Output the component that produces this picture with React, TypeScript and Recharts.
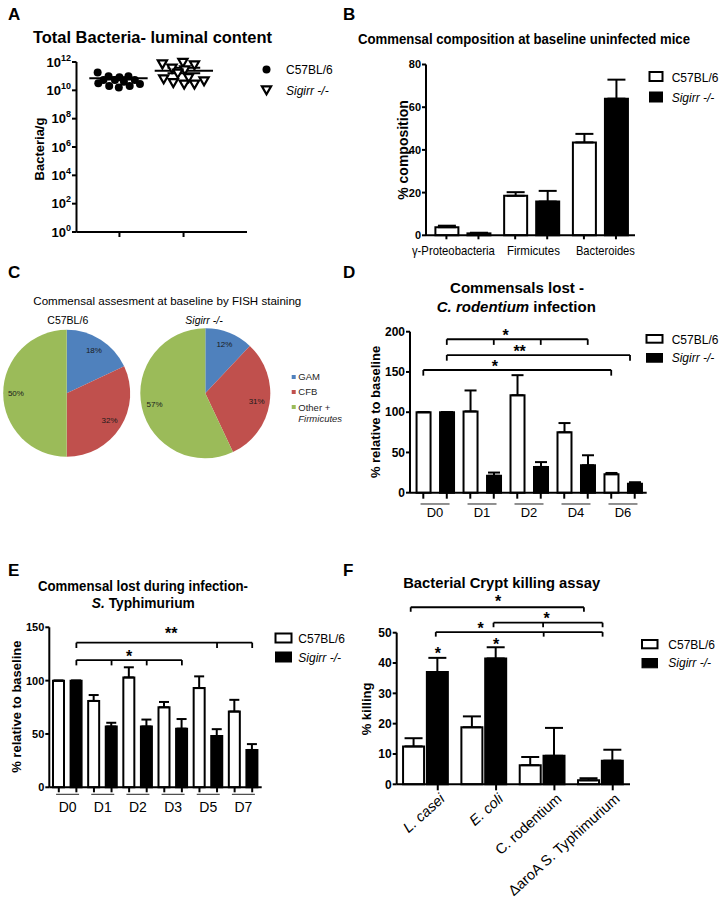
import React from 'react';
import {
  ScatterChart, Scatter, XAxis, YAxis, ReferenceLine, ReferenceDot,
  BarChart, Bar, Cell, ErrorBar, PieChart, Pie,
} from 'recharts';

const FONT = '"Liberation Sans", Arial, Helvetica, sans-serif';
const BLACK = '#000000';
const WHITE = '#ffffff';
const AX = { stroke: BLACK, strokeWidth: 2 };

// ---------------- Panel A data ----------------
const aYTicks = [1, 1e2, 1e4, 1e6, 1e8, 1e10, 1e12];
const aGroupTicks = [1, 2];
const aC57 = [
  { x: 0.66, y: 1.8e11 }, { x: 0.67, y: 3.2e10 }, { x: 0.75, y: 5.4e10 },
  { x: 0.83, y: 1.0e11 }, { x: 0.84, y: 2.0e10 }, { x: 0.93, y: 5.4e10 },
  { x: 0.99, y: 1.6e10 }, { x: 1.0, y: 8.3e10 }, { x: 1.07, y: 4.1e10 },
  { x: 1.14, y: 1.0e11 }, { x: 1.16, y: 2.0e10 }, { x: 1.24, y: 5.4e10 },
  { x: 1.32, y: 2.8e10 },
];
const aSig = [
  { x: 1.67, y: 7.2e11 }, { x: 1.82, y: 3.6e11 }, { x: 1.99, y: 9.3e11 },
  { x: 2.17, y: 6.2e11 }, { x: 1.69, y: 6.3e10 }, { x: 1.84, y: 3.5e10 },
  { x: 2.01, y: 2.7e10 }, { x: 2.08, y: 7.8e10 }, { x: 2.17, y: 2.7e10 },
  { x: 2.32, y: 4.6e10 }, { x: 2.02, y: 2.75e11 }, { x: 1.91, y: 1.6e11 },
];
const aMeans = [7.1e10, 2.45e11];
const aSemLow = [5.9e10, 1.6e11];
const aSemHigh = [8.5e10, 4.0e11];
const aMeanSpan = [[0.53, 1.44], [1.55, 2.46]];
const aSemSpan = [[0.77, 1.2], [1.75, 2.26]];

// ---------------- Panel B data ----------------
const bCats = ['γ-Proteobacteria', 'Firmicutes', 'Bacteroides'];
const bC57 = [3.8, 18.5, 43.5];
const bC57Err = [0.7, 1.7, 4.0];
const bSig = [0.9, 15.8, 64.0];
const bSigErr = [0.3, 5.0, 8.9];
const bYTicks = [0, 20, 40, 60, 80];
const bLabelLen = [83, 53, 59];
const bLabelShift = [-9, 2.3, 5.5];

// ---------------- Panel C data ----------------
const pieCats = ['GAM', 'CFB', 'Other + Firmicutes'];
const pieC57 = [18, 32, 50];
const pieSig = [12, 31, 57];
const pieColors = ['#4F81BD', '#C0504D', '#9BBB59'];

// ---------------- Panel D data ----------------
const dCats = ['D0', 'D1', 'D2', 'D4', 'D6'];
const dC57 = [100, 101, 121, 75, 23];
const dC57Err = [0, 26, 25, 11.5, 1.5];
const dSig = [100, 21, 32, 34, 11];
const dSigErr = [0, 4, 6, 12.5, 2];
const dYTicks = [0, 50, 100, 150, 200];
const dBrackets = [
  { from: 1, to: 7, y: 190.6, drops: [1, 3, 5, 7], drop: 7 },
  { from: 1, to: 8.8, y: 171, drops: [1, 8.8], drop: 7 },
  { from: 0, to: 8, y: 152.4, drops: [0, 8], drop: 7 },
];
const dStars = [
  { x: 3.5, y: 200, t: '*' },
  { x: 4.1, y: 179.5, t: '**' },
  { x: 3.05, y: 161, t: '*' },
];

// ---------------- Panel E data ----------------
const eCats = ['D0', 'D1', 'D2', 'D3', 'D5', 'D7'];
const eC57 = [100, 81, 103, 75, 93, 71];
const eC57Err = [0, 5.5, 9.5, 5, 11, 11];
const eSig = [100, 57, 57, 55, 48, 35];
const eSigErr = [0, 3.5, 6.5, 9, 6.5, 5.5];
const eYTicks = [0, 50, 100, 150];
const eBrackets = [
  { from: 1, to: 11, y: 135.6, drops: [1, 9, 11], drop: 5 },
  { from: 1, to: 7, y: 119.3, drops: [1, 3, 5, 7], drop: 5 },
];
const eStars = [
  { x: 6.4, y: 147.5, t: '**' },
  { x: 4.0, y: 125.6, t: '*' },
];

// ---------------- Panel F data ----------------
const fCats = ['L. casei', 'E. coli', 'C. rodentium', 'ΔaroA S. Typhimurium'];
const fItalic = [true, true, false, false];
const fC57 = [12.5, 18.8, 6.3, 1.3];
const fC57Err = [2.7, 3.6, 2.7, 0.7];
const fSig = [37, 41.5, 9.4, 7.8];
const fSigErr = [4.7, 3.7, 9.2, 3.6];
const fYTicks = [0, 10, 20, 30, 40, 50];
const fBrackets = [
  { from: -0.26, to: 2.71, y: 58.4, drops: [-0.26, 2.71], drop: 1.5 },
  { from: 1.16, to: 3.03, y: 53.3, drops: [1.16, 2.01, 3.03], drop: 1.5 },
  { from: 0.17, to: 3.03, y: 50.2, drops: [0.17, 2.02, 3.03], drop: 1.5 },
];
const fStars = [
  { x: 1.24, y: 61.3, t: '*' },
  { x: 2.07, y: 55.8, t: '*' },
  { x: 0.94, y: 52.5, t: '*' },
  { x: 0.204, y: 44.3, t: '*' },
  { x: 1.204, y: 47.3, t: '*' },
];

// ---------------- helpers ----------------
type Row = { x: number; v: number; e: number[]; g: string };

function buildRows(
  c57: number[], c57Err: number[], sig: number[], sigErr: number[],
  posC: (i: number) => number, posS: (i: number) => number,
): Row[] {
  const rows: Row[] = [];
  c57.forEach((_, i) => {
    rows.push({ x: posC(i), v: c57[i], e: [0, c57Err[i]], g: 'c' });
    rows.push({ x: posS(i), v: sig[i], e: [0, sigErr[i]], g: 's' });
  });
  return rows;
}

const EmptyTick = () => <g />;

function bracketEls(brs: any[], prefix: string) {
  const els: any[] = [];
  brs.forEach((b, i) => {
    els.push(
      <ReferenceLine key={`${prefix}h${i}`} segment={[{ x: b.from, y: b.y }, { x: b.to, y: b.y }]}
        stroke={BLACK} strokeWidth={1.8} ifOverflow="visible" />,
    );
    b.drops.forEach((d: number, j: number) => {
      els.push(
        <ReferenceLine key={`${prefix}d${i}_${j}`} segment={[{ x: d, y: b.y }, { x: d, y: b.y - b.drop }]}
          stroke={BLACK} strokeWidth={1.8} ifOverflow="visible" />,
      );
    });
  });
  return els;
}

function starEls(stars: any[], prefix: string, fs: number) {
  return stars.map((s, i) => (
    <ReferenceDot key={`${prefix}s${i}`} x={s.x} y={s.y} ifOverflow="visible"
      shape={(p: any) => (
        <text x={p.cx} y={p.cy + fs * 0.56} textAnchor="middle" fontSize={fs}
          fontWeight="bold" fill={BLACK} fontFamily={FONT}>{s.t}</text>
      )} />
  ));
}

const LogTick = (props: any) => {
  const { x, y, payload } = props;
  const exp = Math.round(Math.log10(payload.value));
  return (
    <text x={x} y={y} dy={4.5} textAnchor="end" fontSize={13} fontWeight="bold" fill={BLACK} fontFamily={FONT}>
      <tspan>10</tspan>
      <tspan dy={-6} fontSize={9}>{exp}</tspan>
    </text>
  );
};

const DotShape = (p: any) => <circle cx={p.cx} cy={p.cy} r={4} fill={BLACK} />;
const TriShape = (p: any) => (
  <path d={`M${p.cx - 4.6},${p.cy - 3.6} L${p.cx + 4.6},${p.cy - 3.6} L${p.cx},${p.cy + 4.4} Z`}
    fill={WHITE} stroke={BLACK} strokeWidth={2.2} strokeLinejoin="miter" />
);

function makeGroupTick(
  labels: string[], halfPx: number, lineHalf: number, lineDy: number, labelDy: number, fs: number,
  lens?: number[], shifts?: number[],
) {
  return (props: any) => {
    const { x, y, index } = props;
    if (index % 2 !== 0) return <g />;
    const gi = index / 2;
    const cx = x + halfPx;
    const tx = cx + (shifts ? shifts[gi] : 0);
    return (
      <g>
        {lineHalf > 0 && (
          <line x1={cx - lineHalf} x2={cx + lineHalf} y1={y + lineDy} y2={y + lineDy} stroke="#222" strokeWidth={1} />
        )}
        <text x={tx} y={y + labelDy} textAnchor="middle" fontSize={fs} fill={BLACK} fontFamily={FONT}
          {...(lens ? { textLength: lens[gi], lengthAdjust: 'spacingAndGlyphs' } : {})}>
          {labels[gi]}
        </text>
      </g>
    );
  };
}

const FTick = (props: any) => {
  const { x, y, index } = props;
  return (
    <g transform={`translate(${x + 1},${y + 2}) rotate(-42)`}>
      <text x={0} y={0} dy="0.72em" textAnchor="end" fontSize={14.5} fill={BLACK} fontFamily={FONT}
        fontStyle={fItalic[index] ? 'italic' : 'normal'}>{fCats[index]}</text>
    </g>
  );
};

const pieLabel = (p: any) => {
  const RAD = Math.PI / 180;
  const r = p.outerRadius * 0.8;
  const x = p.cx + r * Math.cos(-p.midAngle * RAD);
  const y = p.cy + r * Math.sin(-p.midAngle * RAD);
  return (
    <text x={x} y={y} textAnchor="middle" dominantBaseline="central" fontSize={8} fill="#1a1a1a" fontFamily={FONT}>
      {`${p.value}%`}
    </text>
  );
};

// ---------------- rows ----------------
const bRows = buildRows(bC57, bC57Err, bSig, bSigErr, (i) => i - 0.233, (i) => i + 0.233);
const dRows = buildRows(dC57, dC57Err, dSig, dSigErr, (i) => 2 * i, (i) => 2 * i + 1);
const eRows = buildRows(eC57, eC57Err, eSig, eSigErr, (i) => 2 * i, (i) => 2 * i + 1);
const fRows = buildRows(fC57, fC57Err, fSig, fSigErr, (i) => i - 0.204, (i) => i + 0.204);
const fTickPos = fSig.map((_, i) => i + 0.204);
const pieC57Data = pieCats.map((n, i) => ({ name: n, value: pieC57[i] }));
const pieSigData = pieCats.map((n, i) => ({ name: n, value: pieSig[i] }));

const yTickStyle = (fs: number) => ({ fontSize: fs, fontWeight: 'bold', fill: BLACK, fontFamily: FONT });

const Abs = ({ left, top, children }: any) => (
  <div style={{ position: 'absolute', left, top }}>{children}</div>
);

const bTick = makeGroupTick(bCats, 16, 0, 0, 15.7, 12, bLabelLen, bLabelShift);
const dTick = makeGroupTick(dCats, 11.75, 14.5, 5.3, 18, 13);
const eTick = makeGroupTick(eCats, 8.8, 11.5, 2, 19.4, 14);

function barCells(rows: Row[]) {
  return rows.map((r, i) => <Cell key={`c${i}`} fill={r.g === 'c' ? WHITE : BLACK} />);
}

const LegendPair = ({ x, y1, y2, tx, b1, b2, w, h, fs }: any) => (
  <g>
    <rect x={x} y={y1} width={w} height={h} fill={WHITE} stroke={BLACK} strokeWidth={2} />
    <text x={tx} y={b1} fontSize={fs} fill={BLACK}>C57BL/6</text>
    <rect x={x} y={y2} width={w} height={h + 1} fill={BLACK} stroke={BLACK} strokeWidth={1} />
    <text x={tx} y={b2} fontSize={fs} fill={BLACK} fontStyle="italic">Sigirr -/-</text>
  </g>
);

export default function App() {
  return (
    <div style={{ position: 'absolute', left: 0, top: 0, width: 720, height: 905, background: WHITE, fontFamily: FONT, overflow: 'hidden' }}>
      {/* Panel A */}
      <Abs left={0} top={40}>
        <ScatterChart width={252} height={202} margin={{ top: 22, right: 5, bottom: 0, left: 0 }}>
          <XAxis type="number" dataKey="x" domain={[0.33, 2.99]} ticks={aGroupTicks} tick={EmptyTick}
            tickSize={5} height={10} axisLine={AX} tickLine={AX} interval={0} />
          <YAxis type="number" dataKey="y" scale="log" domain={[1, 1e12]} ticks={aYTicks} tick={LogTick}
            width={76.5} tickSize={4.5} tickMargin={1} axisLine={AX} tickLine={AX} interval={0} />
          {aMeans.map((m, i) => (
            <ReferenceLine key={`am${i}`} segment={[{ x: aMeanSpan[i][0], y: m }, { x: aMeanSpan[i][1], y: m }]}
              stroke={BLACK} strokeWidth={2} ifOverflow="visible" />
          ))}
          {aSemLow.map((m, i) => (
            <ReferenceLine key={`al${i}`} segment={[{ x: aSemSpan[i][0], y: m }, { x: aSemSpan[i][1], y: m }]}
              stroke={BLACK} strokeWidth={2} ifOverflow="visible" />
          ))}
          {aSemHigh.map((m, i) => (
            <ReferenceLine key={`ah${i}`} segment={[{ x: aSemSpan[i][0], y: m }, { x: aSemSpan[i][1], y: m }]}
              stroke={BLACK} strokeWidth={2} ifOverflow="visible" />
          ))}
          <Scatter data={aC57} shape={DotShape} isAnimationActive={false} />
          <Scatter data={aSig} shape={TriShape} isAnimationActive={false} />
        </ScatterChart>
      </Abs>

      {/* Panel B */}
      <Abs left={360} top={40}>
        <BarChart width={280} height={225.3} data={bRows} margin={{ top: 24.5, right: 5, bottom: 0, left: 0 }}>
          <XAxis type="number" dataKey="x" domain={[-0.53, 2.51]} ticks={bRows.map((r) => r.x)} interval={0}
            tick={bTick} tickSize={4} tickMargin={0} height={30} axisLine={AX} tickLine={AX} />
          <YAxis type="number" domain={[0, 80]} ticks={bYTicks} interval={0} width={66} tickSize={4} tickMargin={1}
            axisLine={AX} tickLine={AX} tick={yTickStyle(11)} />
          <Bar dataKey="v" barSize={23} stroke={BLACK} strokeWidth={2} isAnimationActive={false}>
            {barCells(bRows)}
            <ErrorBar dataKey="e" direction="y" width={9} stroke={BLACK} strokeWidth={2} />
          </Bar>
        </BarChart>
      </Abs>

      {/* Panel C */}
      <Abs left={0} top={300}>
        <PieChart width={280} height={170} margin={{ top: 0, right: 0, bottom: 0, left: 0 }}>
          <Pie data={pieC57Data} dataKey="value" nameKey="name" cx={66.7} cy={93.3} outerRadius={63.5}
            startAngle={90} endAngle={-270} stroke="none" label={pieLabel} labelLine={false} isAnimationActive={false}>
            {pieC57Data.map((_, i) => <Cell key={`p1${i}`} fill={pieColors[i]} />)}
          </Pie>
          <Pie data={pieSigData} dataKey="value" nameKey="name" cx={205.3} cy={93.3} outerRadius={65}
            startAngle={90} endAngle={-270} stroke="none" label={pieLabel} labelLine={false} isAnimationActive={false}>
            {pieSigData.map((_, i) => <Cell key={`p2${i}`} fill={pieColors[i]} />)}
          </Pie>
        </PieChart>
      </Abs>

      {/* Panel D */}
      <Abs left={360} top={300}>
        <BarChart width={292} height={222.7} data={dRows} margin={{ top: 31.7, right: 5.3, bottom: 0, left: 0 }}>
          <XAxis type="number" dataKey="x" domain={[-0.566, 9.51]} ticks={dRows.map((r) => r.x)} interval={0}
            tick={dTick} tickSize={6} tickMargin={0} height={30} axisLine={AX} tickLine={AX} />
          <YAxis type="number" domain={[0, 200]} ticks={dYTicks} interval={0} width={50} tickSize={4} tickMargin={1}
            axisLine={AX} tickLine={AX} tick={yTickStyle(12)} />
          <Bar dataKey="v" barSize={14} stroke={BLACK} strokeWidth={2} isAnimationActive={false}>
            {barCells(dRows)}
            <ErrorBar dataKey="e" direction="y" width={6} stroke={BLACK} strokeWidth={2} />
          </Bar>
          {bracketEls(dBrackets, 'd')}
          {starEls(dStars, 'd', 16)}
        </BarChart>
      </Abs>

      {/* Panel E */}
      <Abs left={0} top={590}>
        <BarChart width={267} height={227.3} data={eRows} margin={{ top: 37.3, right: 5.3, bottom: 0, left: 0 }}>
          <XAxis type="number" dataKey="x" domain={[-0.54, 11.54]} ticks={eRows.map((r) => r.x)} interval={0}
            tick={eTick} tickSize={5} tickMargin={0} height={30} axisLine={AX} tickLine={AX} />
          <YAxis type="number" domain={[0, 150]} ticks={eYTicks} interval={0} width={49.3} tickSize={4} tickMargin={1}
            axisLine={AX} tickLine={AX} tick={yTickStyle(11)} />
          <Bar dataKey="v" barSize={11} stroke={BLACK} strokeWidth={2} isAnimationActive={false}>
            {barCells(eRows)}
            <ErrorBar dataKey="e" direction="y" width={5} stroke={BLACK} strokeWidth={2} />
          </Bar>
          {bracketEls(eBrackets, 'e')}
          {starEls(eStars, 'e', 16)}
        </BarChart>
      </Abs>

      {/* Panel F */}
      <Abs left={360} top={590}>
        <BarChart width={275} height={315} data={fRows} margin={{ top: 42.7, right: 5, bottom: 0, left: 0 }}>
          <XAxis type="number" dataKey="x" domain={[-0.5, 3.5]} ticks={fTickPos} interval={0}
            tick={FTick} tickSize={6} tickMargin={0} height={120.7} axisLine={AX} tickLine={AX} />
          <YAxis type="number" domain={[0, 50]} ticks={fYTicks} interval={0} width={36.7} tickSize={4} tickMargin={1}
            axisLine={AX} tickLine={AX} tick={yTickStyle(12)} />
          <Bar dataKey="v" barSize={21} stroke={BLACK} strokeWidth={2} isAnimationActive={false}>
            {barCells(fRows)}
            <ErrorBar dataKey="e" direction="y" width={9} stroke={BLACK} strokeWidth={2} />
          </Bar>
          {bracketEls(fBrackets, 'f')}
          {starEls(fStars, 'f', 16)}
        </BarChart>
      </Abs>

      {/* Text overlay: panel letters, titles, axis titles, legends */}
      <svg width={720} height={905} style={{ position: 'absolute', left: 0, top: 0, pointerEvents: 'none', fontFamily: FONT }}>
        {/* Letters */}
        <text x={8} y={20} fontSize={17} fontWeight="bold">A</text>
        <text x={343} y={20} fontSize={17} fontWeight="bold">B</text>
        <text x={8} y={278} fontSize={17} fontWeight="bold">C</text>
        <text x={343} y={278} fontSize={17} fontWeight="bold">D</text>
        <text x={8} y={576} fontSize={17} fontWeight="bold">E</text>
        <text x={343} y={576} fontSize={17} fontWeight="bold">F</text>

        {/* A */}
        <text x={152.5} y={43} textAnchor="middle" fontSize={16} fontWeight="bold" textLength={239} lengthAdjust="spacingAndGlyphs">
          Total Bacteria- luminal content
        </text>
        <text transform="translate(39.3,149) rotate(-90)" textAnchor="middle" dy="0.35em" fontSize={13} fontWeight="bold">Bacteria/g</text>
        <circle cx={266.5} cy={69.5} r={4} fill={BLACK} />
        <text x={286} y={74} fontSize={12}>C57BL/6</text>
        <path d="M261.9,86.4 L271.1,86.4 L266.5,94.4 Z" fill={WHITE} stroke={BLACK} strokeWidth={2.2} />
        <text x={286} y={94.5} fontSize={12} fontStyle="italic">Sigirr -/-</text>

        {/* B */}
        <text x={524} y={44} textAnchor="middle" fontSize={14} fontWeight="bold" textLength={332} lengthAdjust="spacingAndGlyphs">
          Commensal composition at baseline uninfected mice
        </text>
        <text transform="translate(403,150) rotate(-90)" textAnchor="middle" dy="0.35em" fontSize={14} fontWeight="bold">% composition</text>
        <LegendPair x={649.5} y1={72} y2={92} tx={671.7} b1={81.5} b2={101.5} w={13} h={9} fs={12} />

        {/* C */}
        <text x={33.3} y={305} fontSize={11.6} textLength={268} lengthAdjust="spacingAndGlyphs">
          Commensal assesment at baseline by FISH staining
        </text>
        <text x={67.8} y={324} textAnchor="middle" fontSize={10.5}>C57BL/6</text>
        <text x={204} y={324} textAnchor="middle" fontSize={10.5} fontStyle="italic">Sigirr -/-</text>
        <rect x={291.7} y={375} width={4} height={4} fill={pieColors[0]} />
        <rect x={291.7} y={390} width={4} height={4} fill={pieColors[1]} />
        <rect x={291.7} y={405} width={4} height={4} fill={pieColors[2]} />
        <text x={298.3} y={380} fontSize={9.5} fill="#262626">GAM</text>
        <text x={298.3} y={395} fontSize={9.5} fill="#262626">CFB</text>
        <text x={298.3} y={410.5} fontSize={9.5} fill="#262626">Other +</text>
        <text x={298.3} y={421.5} fontSize={9.5} fill="#262626" fontStyle="italic">Firmicutes</text>

        {/* D */}
        <text x={517} y={293.3} textAnchor="middle" fontSize={15} fontWeight="bold" textLength={134} lengthAdjust="spacingAndGlyphs">
          Commensals lost -
        </text>
        <text x={516.3} y={311.7} textAnchor="middle" fontSize={15} fontWeight="bold" textLength={159} lengthAdjust="spacingAndGlyphs">
          <tspan fontStyle="italic">C. rodentium</tspan> infection
        </text>
        <text transform="translate(375,412) rotate(-90)" textAnchor="middle" dy="0.35em" fontSize={13} fontWeight="bold">% relative to baseline</text>
        <LegendPair x={646.5} y1={335} y2={353.5} tx={671.7} b1={343.5} b2={362} w={16} h={7.7} fs={12} />

        {/* E */}
        <text x={143} y={591} textAnchor="middle" fontSize={15} fontWeight="bold" textLength={210} lengthAdjust="spacingAndGlyphs">
          Commensal lost during infection-
        </text>
        <text x={143.3} y={608} textAnchor="middle" fontSize={15} fontWeight="bold" textLength={103} lengthAdjust="spacingAndGlyphs">
          <tspan fontStyle="italic">S.</tspan> Typhimurium
        </text>
        <text transform="translate(16.7,706.7) rotate(-90)" textAnchor="middle" dy="0.35em" fontSize={13} fontWeight="bold">% relative to baseline</text>
        <LegendPair x={275.5} y1={633.5} y2={652} tx={298.3} b1={643} b2={661.5} w={16} h={9} fs={12} />

        {/* F */}
        <text x={501.7} y={588.3} textAnchor="middle" fontSize={15} fontWeight="bold" textLength={197} lengthAdjust="spacingAndGlyphs">
          Bacterial Crypt killing assay
        </text>
        <text transform="translate(366,709) rotate(-90)" textAnchor="middle" dy="0.35em" fontSize={13} fontWeight="bold">% killing</text>
        <LegendPair x={642} y1={640} y2={658.5} tx={668.3} b1={648.5} b2={667} w={15.5} h={8.3} fs={12} />
      </svg>
    </div>
  );
}
